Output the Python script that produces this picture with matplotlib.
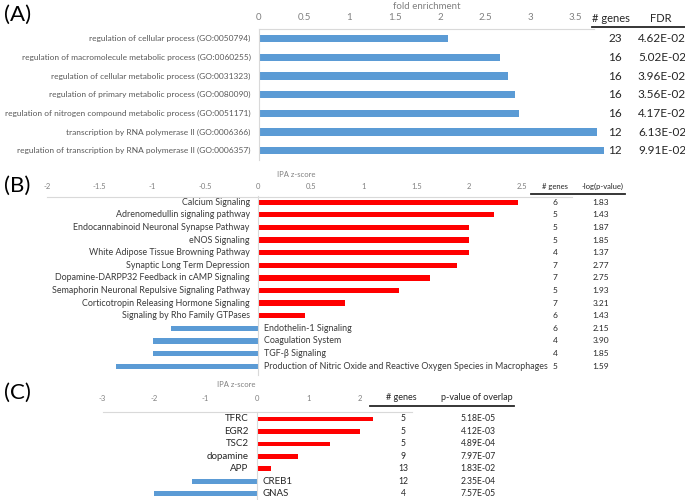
"""
GO / IPA enrichment summary figure (A, B, C panels)
"""

import matplotlib
matplotlib.use('Agg')
import matplotlib.pyplot as plt
from matplotlib.lines import Line2D
from matplotlib.transforms import blended_transform_factory

# figure size in pixels (dpi 100)
W, H = 685, 500

plt.rcParams['font.family'] = ['Lato', 'DejaVu Sans']

BLUE = '#5B9BD5'
RED = '#FF0000'
AXIS_GRAY = '#D9D9D9'
TICK_GRAY = '#808080'

# (A) GO biological process
go_terms = [
    'regulation of cellular process (GO:0050794)',
    'regulation of macromolecule metabolic process (GO:0060255)',
    'regulation of cellular metabolic process (GO:0031323)',
    'regulation of primary metabolic process (GO:0080090)',
    'regulation of nitrogen compound metabolic process (GO:0051171)',
    'transcription by RNA polymerase II (GO:0006366)',
    'regulation of transcription by RNA polymerase II (GO:0006357)',
]
go_fold = [2.09, 2.66, 2.75, 2.83, 2.87, 3.73, 3.81]
go_genes = [23, 16, 16, 16, 16, 12, 12]
go_fdr = ['4.62E-02', '5.02E-02', '3.96E-02', '3.56E-02', '4.17E-02', '6.13E-02', '9.91E-02']
go_ticks = [0, 0.5, 1, 1.5, 2, 2.5, 3, 3.5]

# (B) IPA canonical pathways
path_names = [
    'Calcium Signaling',
    'Adrenomedullin signaling pathway',
    'Endocannabinoid Neuronal Synapse Pathway',
    'eNOS Signaling',
    'White Adipose Tissue Browning Pathway',
    'Synaptic Long Term Depression',
    'Dopamine-DARPP32 Feedback in cAMP Signaling',
    'Semaphorin Neuronal Repulsive Signaling Pathway',
    'Corticotropin Releasing Hormone Signaling',
    'Signaling by Rho Family GTPases',
    'Endothelin-1 Signaling',
    'Coagulation System',
    'TGF-β Signaling',
    'Production of Nitric Oxide and Reactive Oxygen Species in Macrophages',
]
path_z = [2.46, 2.24, 2.0, 2.0, 2.0, 1.89, 1.63, 1.34, 0.82, 0.45, -0.82, -1.0, -1.0, -1.35]
path_genes = [6, 5, 5, 5, 4, 7, 7, 5, 7, 6, 6, 4, 4, 5]
path_logp = ['1.83', '1.43', '1.87', '1.85', '1.37', '2.77', '2.75',
             '1.93', '3.21', '1.43', '2.15', '3.90', '1.85', '1.59']
path_ticks = [-2, -1.5, -1, -0.5, 0, 0.5, 1, 1.5, 2, 2.5]

# (C) IPA upstream regulators
reg_names = ['TFRC', 'EGR2', 'TSC2', 'dopamine', 'APP', 'CREB1', 'GNAS']
reg_z = [2.26, 2.0, 1.42, 0.79, 0.28, -1.26, -2.0]
reg_genes = [5, 5, 5, 9, 13, 12, 4]
reg_p = ['5.18E-05', '4.12E-03', '4.89E-04', '7.97E-07', '1.83E-02', '2.35E-04', '7.57E-05']
reg_ticks = [-3, -2, -1, 0, 1, 2]


def fx(px):
    return px / W


def fy(py):
    return 1 - py / H


def make_axes(fig, x0, ppu, xlim, ylim, y_top, y_bot):
    """x0: pixel of x=0, ppu: pixels per unit, y_top/y_bot: pixel rows"""
    left = x0 + xlim[0] * ppu
    ax = fig.add_axes([fx(left), fy(y_bot), (xlim[1] - xlim[0]) * ppu / W, (y_bot - y_top) / H])
    ax.set_xlim(*xlim)
    ax.set_ylim(*ylim)
    ax.spines['right'].set_visible(False)
    ax.spines['bottom'].set_visible(False)
    ax.spines['top'].set_color(AXIS_GRAY)
    ax.spines['left'].set_color(AXIS_GRAY)
    ax.spines['left'].set_position(('data', 0))
    ax.xaxis.tick_top()
    ax.set_yticks([])
    ax.patch.set_visible(False)
    return ax


def table(fig, ax, cols, rows, fontsize, color='#262626'):
    """cols: list of (pixel x, values)"""
    tr = blended_transform_factory(fig.transFigure, ax.transData)
    for x, values in cols:
        for i, v in enumerate(values):
            fig.text(fx(x), rows[i], str(v), transform=tr, ha='center', va='center',
                     fontsize=fontsize, color=color)


def header(fig, items, y, x0, x1, fontsize):
    for x, s in items:
        fig.text(fx(x), fy(y), s, ha='center', va='center', fontsize=fontsize, color='#262626')
    fig.add_artist(Line2D([fx(x0), fx(x1)], [fy(y + 8), fy(y + 8)], color='#262626', lw=1.3))


def row_labels(ax, names, values, fontsize, color):
    for i, (name, v) in enumerate(zip(names, values)):
        if v >= 0:
            ax.annotate(name, xy=(0, i), xytext=(-6, 0), textcoords='offset points',
                        ha='right', va='center', fontsize=fontsize, color=color)
        else:
            ax.annotate(name, xy=(0, i), xytext=(4, 0), textcoords='offset points',
                        ha='left', va='center', fontsize=fontsize, color=color)


fig = plt.figure(figsize=(W / 100, H / 100), dpi=100)

# ---------- (A) ----------
rows_a = list(range(len(go_terms)))
ax_a = make_axes(fig, 259, 90.5, (0, 3.7), (6.5, -0.52), 29, 160)
ax_a.barh(rows_a, go_fold, height=0.38, color=BLUE, clip_on=False)
ax_a.set_xticks(go_ticks)
ax_a.set_xticklabels([f'{t:g}' for t in go_ticks])
ax_a.tick_params(axis='x', length=0, labelsize=7, colors=TICK_GRAY, pad=5)
ax_a.set_xlabel('fold enrichment', fontsize=7, color=TICK_GRAY, labelpad=3)
ax_a.xaxis.set_label_position('top')
row_labels(ax_a, go_terms, go_fold, 6.0, '#595959')
header(fig, [(611, '# genes'), (661, 'FDR')], 19, 592, 685, 8)
table(fig, ax_a, [(615, go_genes), (662, go_fdr)], rows_a, 8.5)
fig.text(fx(4), fy(15), '(A)', fontsize=16, va='center', ha='left')

# ---------- (B) ----------
rows_b = list(range(len(path_names)))
ax_b = make_axes(fig, 258, 105.5, (-2, 2.98), (13.7, -0.45), 196.5, 375)
ax_b.barh(rows_b, path_z, height=0.42,
          color=[RED if v >= 0 else BLUE for v in path_z])
ax_b.set_xticks(path_ticks)
ax_b.set_xticklabels([f'{t:g}' for t in path_ticks])
ax_b.tick_params(axis='x', length=0, labelsize=5.5, colors=TICK_GRAY, pad=5)
ax_b.text(0.36, 1.0, 'IPA z-score', transform=blended_transform_factory(ax_b.transData, ax_b.transAxes),
          fontsize=5.5, color=TICK_GRAY, ha='center', va='bottom')
ax_b.texts[-1].set_y(1.105)
row_labels(ax_b, path_names, path_z, 6.4, '#3A3A3A')
header(fig, [(555, '# genes'), (603, '-log(p-value)')], 186, 531, 625, 5.5)
table(fig, ax_b, [(555, path_genes), (601, path_logp)], rows_b, 6)
fig.text(fx(4), fy(186), '(B)', fontsize=16, va='center', ha='left')

# ---------- (C) ----------
rows_c = list(range(len(reg_names)))
ax_c = make_axes(fig, 257, 51.5, (-3, 3.0), (6.5, -0.56), 412, 500)
ax_c.barh(rows_c, reg_z, height=0.38,
          color=[RED if v >= 0 else BLUE for v in reg_z])
ax_c.set_xticks(reg_ticks)
ax_c.set_xticklabels([f'{t:g}' for t in reg_ticks])
ax_c.tick_params(axis='x', length=0, labelsize=5.5, colors=TICK_GRAY, pad=7)
ax_c.text(-0.4, 1.0, 'IPA z-score', transform=blended_transform_factory(ax_c.transData, ax_c.transAxes),
          fontsize=5.5, color=TICK_GRAY, ha='center', va='bottom')
ax_c.texts[-1].set_y(1.27)
row_labels(ax_c, reg_names, reg_z, 7, '#262626')
header(fig, [(401, '# genes'), (477, 'p-value of overlap')], 398, 370, 514, 6.5)
table(fig, ax_c, [(403, reg_genes), (478, reg_p)], rows_c, 6.2)
fig.text(fx(4), fy(393), '(C)', fontsize=16, va='center', ha='left')

fig.savefig('out.png', dpi=100)
plt.close(fig)
